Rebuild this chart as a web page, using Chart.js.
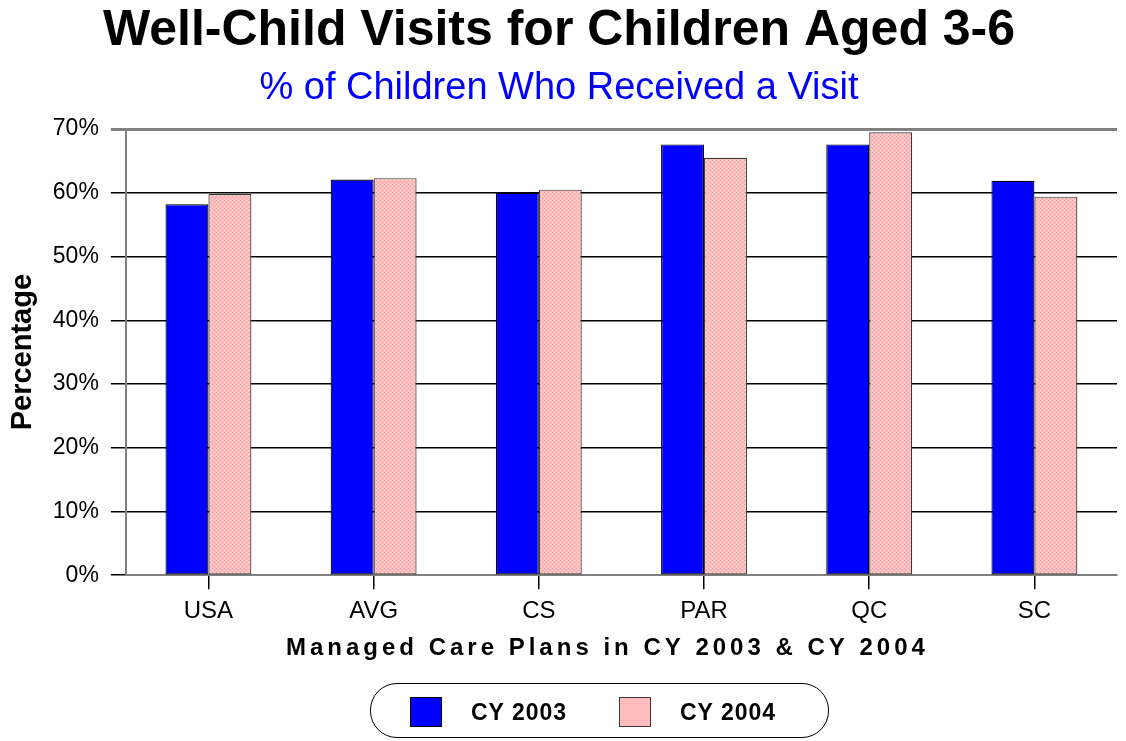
<!DOCTYPE html>
<html><head><meta charset="utf-8">
<script src="https://cdn.jsdelivr.net/npm/chart.js@4/dist/chart.umd.min.js"></script>
<style>
html,body{margin:0;padding:0;background:#fff;}
#wrap{position:relative;width:1126px;height:741px;}
#legend{position:absolute;left:370px;top:683px;width:459px;height:55px;border:1.5px solid #000;border-radius:27px;box-sizing:border-box;font-family:"Liberation Sans",Arial,sans-serif;font-weight:bold;font-size:23px;letter-spacing:1px;color:#000;}
.item{position:absolute;top:13px;height:30px;display:flex;align-items:center;}
.sw{width:32px;height:30px;box-sizing:border-box;border:1px solid #000;margin-right:29px;}
</style></head>
<body><div id="wrap"><canvas id="c" width="1126" height="741"></canvas><div id="legend"></div></div>
<script>
const categories = ['USA', 'AVG', 'CS', 'PAR', 'QC', 'SC'];
const seriesNames = ['CY 2003', 'CY 2004'];
const cy2003 = [58.2, 62.1, 60.0, 67.6, 67.6, 61.9];
const cy2004 = [59.8, 62.3, 60.5, 65.5, 69.5, 59.4];
const yTickValues = [0, 10, 20, 30, 40, 50, 60, 70];

const FONT = '"Liberation Sans", Arial, sans-serif';
const blue = '#0000ff';
const pinkBase = '#ffbcbc';

function pinkPattern() {
  const c = document.createElement('canvas');
  c.width = 4; c.height = 4;
  const x = c.getContext('2d');
  x.fillStyle = pinkBase; x.fillRect(0, 0, 4, 4);
  x.fillStyle = '#f2a4a4';
  x.fillRect(0, 0, 1, 1); x.fillRect(2, 2, 1, 1);
  x.fillStyle = '#ffd2d2';
  x.fillRect(2, 0, 1, 1); x.fillRect(0, 2, 1, 1);
  return x.createPattern(c, 'repeat');
}

const xTitleSpacing = {
  id: 'xTitleSpacing',
  beforeDraw(chart) {
    const s = chart.scales.x;
    if (!s.__patched) {
      const orig = s.drawTitle.bind(s);
      s.drawTitle = function () {
        const ctx = chart.ctx;
        ctx.save();
        ctx.letterSpacing = '4px';
        ctx.translate(-14, 0);
        orig();
        ctx.restore();
      };
      s.__patched = true;
    }
  }
};

const ctx = document.getElementById('c').getContext('2d');
const pink = pinkPattern();

new Chart(ctx, {
  type: 'bar',
  data: {
    labels: categories,
    datasets: [
      { label: seriesNames[0], data: cy2003, backgroundColor: blue, borderColor: '#000', borderWidth: 1.2, borderSkipped: false },
      { label: seriesNames[1], data: cy2004, backgroundColor: pink, borderColor: '#3a3a3a', borderWidth: 1.2, borderSkipped: false }
    ]
  },
  plugins: [xTitleSpacing],
  options: {
    responsive: false,
    animation: false,
    layout: { padding: { left: 1, right: 9, top: 0, bottom: 78 } },
    datasets: { bar: { barPercentage: 1, categoryPercentage: 0.52 } },
    plugins: {
      legend: { display: false },
      tooltip: { enabled: false },
      title: {
        display: true,
        text: 'Well-Child Visits for Children Aged 3-6',
        color: '#000',
        font: { family: FONT, size: 50, weight: 'bold', lineHeight: 1.2 },
        padding: { top: 1.5, bottom: 0 }
      },
      subtitle: {
        display: true,
        text: '% of Children Who Received a Visit',
        color: blue,
        font: { family: FONT, size: 38, lineHeight: 1.2 },
        padding: { top: 4, bottom: 18 }
      }
    },
    scales: {
      x: {
        offset: true,
        grid: { drawOnChartArea: false, offset: false, drawTicks: true, tickLength: 14, color: '#000', lineWidth: 1.5 },
        border: { color: '#808080', width: 2 },
        ticks: { color: '#000', font: { family: FONT, size: 24, lineHeight: 1.0 }, padding: 10 },
        title: {
          display: true,
          text: 'Managed Care Plans in CY 2003 & CY 2004',
          color: '#000',
          font: { family: FONT, size: 24, weight: 'bold', lineHeight: 1.2 },
          padding: { top: 1, bottom: 0 }
        }
      },
      y: {
        min: 0,
        max: 70,
        afterBuildTicks(scale) { scale.ticks = yTickValues.map(v => ({ value: v })); },
        grid: {
          color: c => (c.tick && c.tick.value === 70) ? '#808080' : '#000',
          lineWidth: c => (c.tick && c.tick.value === 70) ? 3 : 1.5,
          tickLength: 15
        },
        border: { color: '#808080', width: 2 },
        ticks: { color: '#000', font: { family: FONT, size: 23 }, padding: 12, callback: v => v + '%' },
        title: {
          display: true,
          text: 'Percentage',
          color: '#000',
          font: { family: FONT, size: 29, weight: 'bold', lineHeight: 1.2 },
          padding: { top: 5, bottom: 0 }
        }
      }
    }
  }
});

const legend = document.getElementById('legend');
const swatches = [
  { left: 39, bg: blue, border: '#000', text: seriesNames[0] },
  { left: 248, bg: pinkBase, border: '#3a3a3a', text: seriesNames[1] }
];
swatches.forEach(s => {
  const it = document.createElement('div');
  it.className = 'item';
  it.style.left = s.left + 'px';
  const sw = document.createElement('div');
  sw.className = 'sw';
  sw.style.background = s.bg;
  sw.style.borderColor = s.border;
  const tx = document.createElement('span');
  tx.textContent = s.text;
  it.appendChild(sw); it.appendChild(tx);
  legend.appendChild(it);
});
</script>
</body></html>
